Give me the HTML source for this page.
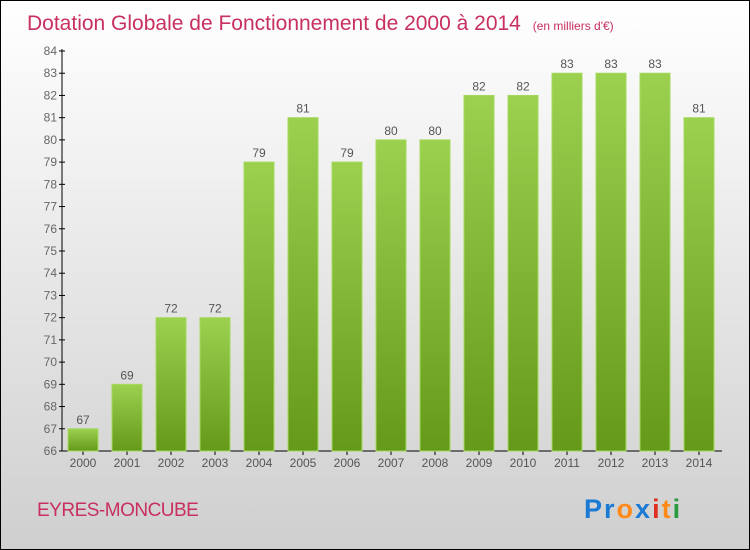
<!DOCTYPE html>
<html><head><meta charset="utf-8"><style>
body{margin:0}
#wrap{position:relative;width:748px;height:548px;border:1px solid #000;background:linear-gradient(#ffffff,#cfcfcf);overflow:hidden;font-family:"Liberation Sans",sans-serif}
</style></head><body>
<div id="wrap">
<svg id="chart" width="748" height="548" style="position:absolute;left:0;top:0">
<defs><linearGradient id="g" x1="0" y1="0" x2="0" y2="1"><stop offset="0" stop-color="#9bd14f"/><stop offset="1" stop-color="#64991a"/></linearGradient></defs>
<text x="26" y="29" font-size="21" fill="#c8305f">Dotation Globale de Fonctionnement de 2000 à 2014 <tspan font-size="12" dx="6">(en milliers d'€)</tspan></text>
<text x="36" y="515" font-size="19" fill="#c8305f" letter-spacing="-0.5">EYRES-MONCUBE</text>
<text x="583" y="517" font-size="27" font-weight="bold" letter-spacing="2"><tspan fill="#1a7ad4">Pr</tspan><tspan fill="#ff8a1a">o</tspan><tspan fill="#1a7ad4">x</tspan><tspan fill="#e03020">i</tspan><tspan fill="#ff8a1a">t</tspan><tspan fill="#2a9a40">i</tspan></text>
<g id="axes"></g><g id="bars"></g>
</svg>
</div>
<script>
const years=["2000","2001","2002","2003","2004","2005","2006","2007","2008","2009","2010","2011","2012","2013","2014"];
const values=[67,69,72,72,79,81,79,80,80,82,82,83,83,83,81];
const yTicks=[66,67,68,69,70,71,72,73,74,75,76,77,78,79,80,81,82,83,84];
const NS="http://www.w3.org/2000/svg";
const y=v=>450-(v-66)*400/18;
const x=i=>82+i*44;
function mk(t,a,p){const e=document.createElementNS(NS,t);for(const k in a)e.setAttribute(k,a[k]);p.appendChild(e);return e;}
const ax=document.getElementById('axes'),bg=document.getElementById('bars');
let l=mk('line',{x1:61,y1:48,x2:61,y2:450,stroke:'#000'},ax);


l=mk('line',{x1:61,y1:450,x2:721,y2:450,stroke:'#000'},ax);


yTicks.forEach(v=>{
 mk('line',{x1:58,y1:y(v),x2:64,y2:y(v),stroke:'#000'},ax);
 const t=mk('text',{x:56,y:y(v)+4,'font-size':12,fill:'#666','text-anchor':'end'},ax);t.textContent=v;
 
 
});
years.forEach((yr,i)=>{
 mk('line',{x1:x(i),y1:450,x2:x(i),y2:454,stroke:'#000'},ax);
 const t=mk('text',{x:x(i),y:466,'font-size':12,fill:'#555','text-anchor':'middle'},ax);t.textContent=yr;
 
 
 const v=values[i];
 const r=mk('rect',{x:x(i)-15,y:y(v),width:30,height:450-y(v),fill:'url(#g)',stroke:'#a6d95e','stroke-width':1},bg);
 
 
 const vt=mk('text',{x:x(i),y:y(v)-5,'font-size':12,fill:'#555','text-anchor':'middle'},bg);vt.textContent=v;
 
 
});
</script>
</body></html>
